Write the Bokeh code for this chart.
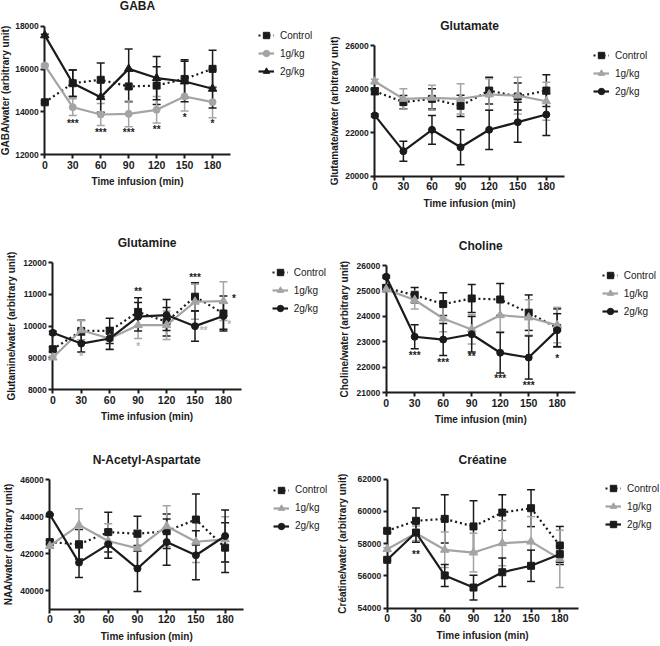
import math
from bokeh.plotting import figure
from bokeh.models import (Range1d, FixedTicker, Whisker, TeeHead, ColumnDataSource,
                          Legend, LegendItem, Label)
from bokeh.layouts import column, row
from bokeh.embed import file_html
from bokeh.resources import INLINE
from bokeh.core.properties import value

FONT = "Liberation Sans"
BLACK = "#1b1b1b"
GRAY = "#a4a4a4"
GRAY_STAR = "#b4b4b4"

# ---------------- data ----------------
times = [0, 30, 60, 90, 120, 150, 180]
series_labels = ["Control", "1g/kg", "2g/kg"]
x_ticks = [0, 30, 60, 90, 120, 150, 180]
x_label = "Time infusion (min)"

# GABA
gaba_ctrl = [14450, 15340, 15500, 15190, 15230, 15540, 16010]
gaba_ctrl_err = [60, 620, 780, 720, 880, 900, 870]
gaba_1g = [16170, 14220, 13880, 13910, 14100, 14720, 14460]
gaba_1g_err = [60, 390, 510, 600, 620, 680, 730]
gaba_2g = [17570, 15340, 14690, 16010, 15580, 15420, 15080]
gaba_2g_err = [60, 620, 700, 930, 1010, 950, 900]
gaba_yticks = [12000, 14000, 16000, 18000]
gaba_sig_x = [30, 60, 90, 120, 150, 180]
gaba_sig_y = [13480, 13030, 13030, 13170, 13730, 13480]
gaba_sig_t = ["***", "***", "***", "**", "*", "*"]
gaba_sig_c = ["black"] * 6

# Glutamate
glu_ctrl = [23900, 23400, 23550, 23230, 23930, 23660, 23930]
glu_ctrl_err = [150, 300, 460, 490, 610, 620, 730]
glu_1g = [24350, 23550, 23600, 23550, 23750, 23700, 23440]
glu_1g_err = [100, 460, 570, 690, 720, 840, 870]
glu_2g = [22790, 21150, 22130, 21330, 22130, 22480, 22830]
glu_2g_err = [60, 460, 660, 800, 900, 920, 960]
glu_yticks = [20000, 22000, 24000, 26000]

# Glutamine
gln_ctrl = [9270, 9850, 9850, 10450, 10140, 10930, 10400]
gln_ctrl_err = [80, 340, 400, 450, 450, 440, 550]
gln_1g = [9010, 9870, 9610, 10030, 10030, 10770, 10790]
gln_1g_err = [50, 300, 330, 420, 450, 550, 610]
gln_2g = [9790, 9450, 9610, 10300, 10350, 10000, 10320]
gln_2g_err = [50, 270, 350, 450, 490, 480, 420]
gln_yticks = [8000, 9000, 10000, 11000, 12000]
gln_sig_x = [90, 150, 191, 30, 90, 159, 186]
gln_sig_y = [11080, 11540, 10870, 9030, 9370, 9870, 10050]
gln_sig_t = ["**", "***", "*", "*", "*", "**", "*"]
gln_sig_c = ["black", "black", "black", "gray", "gray", "gray", "gray"]

# Choline
cho_ctrl = [25130, 24840, 24490, 24710, 24670, 24150, 23550]
cho_ctrl_err = [100, 300, 450, 550, 630, 700, 750]
cho_1g = [25070, 24650, 23920, 23490, 24050, 23960, 23660]
cho_1g_err = [80, 350, 520, 580, 650, 700, 700]
cho_2g = [25570, 23200, 23090, 23300, 22570, 22380, 23460]
cho_2g_err = [50, 470, 630, 700, 800, 850, 650]
cho_yticks = [21000, 22000, 23000, 24000, 25000, 26000]
cho_sig_x = [30, 60, 90, 120, 150, 180]
cho_sig_y = [22470, 22180, 22410, 21550, 21260, 22340]
cho_sig_t = ["***", "***", "**", "***", "***", "*"]
cho_sig_c = ["black"] * 6

# N-Acetyl-Aspartate
naa_ctrl = [42630, 42510, 43170, 43080, 43220, 43850, 42330]
naa_ctrl_err = [100, 800, 1070, 950, 930, 1380, 1350]
naa_1g = [42420, 43550, 42690, 42290, 43490, 42650, 42780]
naa_1g_err = [100, 880, 930, 1000, 1110, 1130, 1220]
naa_2g = [44120, 41520, 42510, 41200, 42630, 41920, 42960]
naa_2g_err = [50, 800, 750, 1240, 1250, 1330, 1400]
naa_yticks = [40000, 42000, 44000, 46000]

# Creatine
cre_ctrl = [58800, 59420, 59540, 59070, 59930, 60200, 57890]
cre_ctrl_err = [100, 790, 1490, 1590, 1100, 1140, 1180]
cre_1g = [57660, 58650, 57620, 57450, 58030, 58130, 57060]
cre_1g_err = [100, 450, 1100, 1200, 1400, 1550, 1780]
cre_2g = [57000, 58690, 56030, 55280, 56230, 56630, 57350]
cre_2g_err = [50, 600, 680, 770, 890, 970, 500]
cre_yticks = [54000, 56000, 58000, 60000, 62000]
cre_sig_x = [30]
cre_sig_y = [57310]
cre_sig_t = ["**"]
cre_sig_c = ["black"]

STAR_COLORS = {"black": BLACK, "gray": GRAY_STAR}
X_AXIS_END = 199


def panel(title, ylabel, ymin, ymax, yticks, series, markers, sig, cfg):
    W, H = cfg["W"], cfg["H"]
    ppy = (cfg["axis"] - cfg["top"]) / (ymax - ymin)
    ppm = cfg["ppm"]
    # the frame fills the whole figure; axes are pinned with fixed_location
    y_start = ymin - (H - cfg["axis"]) / ppy
    y_end = y_start + H / ppy
    x_start = -cfg["xax"] / ppm
    x_end = x_start + W / ppm
    p = figure(width=W, height=H, x_range=Range1d(x_start, x_end), y_range=Range1d(y_start, y_end),
               output_backend="svg", toolbar_location=None,
               min_border_left=0, min_border_bottom=0, min_border_top=0, min_border_right=0)
    p.outline_line_color = None
    p.grid.visible = False
    p.background_fill_color = "white"
    p.border_fill_color = "white"

    xa = p.xaxis[0]
    xa.ticker = FixedTicker(ticks=x_ticks)
    xa.bounds = (0, X_AXIS_END)
    xa.fixed_location = ymin
    ya = p.yaxis[0]
    ya.ticker = FixedTicker(ticks=yticks)
    ya.bounds = (ymin, ymax)
    ya.fixed_location = 0
    for ax in (xa, ya):
        ax.level = "underlay"
        ax.axis_line_color = BLACK
        ax.axis_line_width = 2
        ax.major_tick_line_color = BLACK
        ax.major_tick_line_width = 2
        ax.major_tick_out = 4
        ax.major_tick_in = 0
        ax.minor_tick_line_color = None
        ax.major_label_text_font = FONT
        ax.major_label_text_font_style = "bold"
        ax.major_label_text_color = BLACK
    xa.major_label_text_font_size = "10.5px"
    xa.major_label_standoff = 2
    ya.major_label_text_font_size = "8.5px"
    ya.major_label_standoff = 2

    items = []
    for (vals, errs, color, dash), mk, lab in zip(series, markers, series_labels):
        lower = [v - e for v, e in zip(vals, errs)]
        upper = [v + e for v, e in zip(vals, errs)]
        wsrc = ColumnDataSource(dict(base=times, lower=lower, upper=upper))
        w = Whisker(source=wsrc, base="base", lower="lower", upper="upper",
                    line_color=color, line_width=1.5,
                    upper_head=TeeHead(size=8, line_color=color, line_width=1.5),
                    lower_head=TeeHead(size=8, line_color=color, line_width=1.5))
        p.add_layout(w)
        r_line = p.line(times, vals, line_color=color, line_width=2.2, line_dash=dash)
        msize = 8.5 if mk == "triangle" else 7
        r_mk = p.scatter(times, vals, marker=mk, size=msize, fill_color=color, line_color=color)
        items.append(LegendItem(label=lab, renderers=[r_line, r_mk]))

    if sig is not None:
        sx, sy, st, sc = sig
        for key, col in STAR_COLORS.items():
            idx = [i for i, c in enumerate(sc) if c == key]
            if not idx:
                continue
            p.text(x=[sx[i] for i in idx], y=[sy[i] for i in idx], text=[st[i] for i in idx],
                   text_color=col, text_font=value(FONT), text_font_size=value("10px"),
                   text_font_style="bold", text_align="center", text_baseline="middle")

    xmid = X_AXIS_END / 2
    p.add_layout(Label(x=xmid, y=ymin + (cfg["axis"] - cfg["title_y"]) / ppy, text=title,
                       text_align="center", text_baseline="middle",
                       text_font=FONT, text_font_style="bold", text_font_size="12px",
                       text_color=BLACK))
    p.add_layout(Label(x=xmid, y=ymin - 27 / ppy, text=x_label,
                       text_align="center", text_baseline="middle",
                       text_font=FONT, text_font_style="bold", text_font_size="10px",
                       text_color=BLACK))
    p.add_layout(Label(x=-cfg["ylab_dx"] / ppm, y=(ymin + ymax) / 2, text=ylabel, angle=math.pi / 2,
                       text_align="center", text_baseline="middle",
                       text_font=FONT, text_font_style="bold", text_font_size="10px",
                       text_color=BLACK))

    leg_h = 3 * 16 + 2 * 2
    lx = cfg["leg_x"]
    ly = H - (cfg["leg_row1"] - 7 + leg_h)
    leg = Legend(items=items, location=(lx, ly), glyph_width=16, glyph_height=16,
                 label_height=16, spacing=2, padding=0, margin=0, label_standoff=6,
                 label_text_font=FONT, label_text_font_size="10px", label_text_color=BLACK,
                 border_line_color=None, background_fill_alpha=0)
    p.add_layout(leg)
    return p


def std_series(c, ce, g1, g1e, g2, g2e):
    return [(c, ce, BLACK, "2 3"), (g1, g1e, GRAY, "solid"), (g2, g2e, BLACK, "solid")]


cfg_gaba = dict(W=330, H=212, xax=44.3, top=25.7, axis=154.3, title_y=5.5, ppm=0.932,
                leg_x=258, leg_row1=34, ylab_dx=39)
cfg_glu = dict(W=330, H=212, xax=44.3, top=45, axis=175.7, title_y=25, ppm=0.953,
               leg_x=263, leg_row1=54.3, ylab_dx=40)
cfg_gln = dict(W=330, H=214, xax=52.3, top=50.3, axis=177, title_y=30.3, ppm=0.948,
               leg_x=271.7, leg_row1=59.3, ylab_dx=41)
cfg_cho = dict(W=330, H=214, xax=55.7, top=53.3, axis=180, title_y=33.3, ppm=0.95,
               leg_x=271.7, leg_row1=62, ylab_dx=42)
cfg_naa = dict(W=330, H=218, xax=49.3, top=53.3, axis=182.7, title_y=33.3, ppm=0.974,
               leg_x=273, leg_row1=62.7, ylab_dx=41)
cfg_cre = dict(W=330, H=218, xax=56.7, top=52.7, axis=181.7, title_y=33.3, ppm=0.959,
               leg_x=275, leg_row1=61, ylab_dx=45)

p1 = panel("GABA", "GABA/water (arbitrary unit)", 12000, 18000, gaba_yticks,
           std_series(gaba_ctrl, gaba_ctrl_err, gaba_1g, gaba_1g_err, gaba_2g, gaba_2g_err),
           ["square", "circle", "triangle"], (gaba_sig_x, gaba_sig_y, gaba_sig_t, gaba_sig_c), cfg_gaba)
p2 = panel("Glutamate", "Glutamate/water (arbitrary unit)", 20000, 26000, glu_yticks,
           std_series(glu_ctrl, glu_ctrl_err, glu_1g, glu_1g_err, glu_2g, glu_2g_err),
           ["square", "triangle", "circle"], None, cfg_glu)
p3 = panel("Glutamine", "Glutamine/water (arbitrary unit)", 8000, 12000, gln_yticks,
           std_series(gln_ctrl, gln_ctrl_err, gln_1g, gln_1g_err, gln_2g, gln_2g_err),
           ["square", "triangle", "circle"], (gln_sig_x, gln_sig_y, gln_sig_t, gln_sig_c), cfg_gln)
p4 = panel("Choline", "Choline/water (arbitrary unit)", 21000, 26000, cho_yticks,
           std_series(cho_ctrl, cho_ctrl_err, cho_1g, cho_1g_err, cho_2g, cho_2g_err),
           ["square", "triangle", "circle"], (cho_sig_x, cho_sig_y, cho_sig_t, cho_sig_c), cfg_cho)
p5 = panel("N-Acetyl-Aspartate", "NAA/water (arbitrary unit)", 39000, 46000, naa_yticks,
           std_series(naa_ctrl, naa_ctrl_err, naa_1g, naa_1g_err, naa_2g, naa_2g_err),
           ["square", "triangle", "circle"], None, cfg_naa)
p6 = panel("Créatine", "Créatine/water (arbitrary unit)", 54000, 62000, cre_yticks,
           std_series(cre_ctrl, cre_ctrl_err, cre_1g, cre_1g_err, cre_2g, cre_2g_err),
           ["square", "triangle", "square"], (cre_sig_x, cre_sig_y, cre_sig_t, cre_sig_c), cfg_cre)

layout = column(row(p1, p2), row(p3, p4), row(p5, p6))
open("out.html", "w").write(file_html(layout, INLINE))
